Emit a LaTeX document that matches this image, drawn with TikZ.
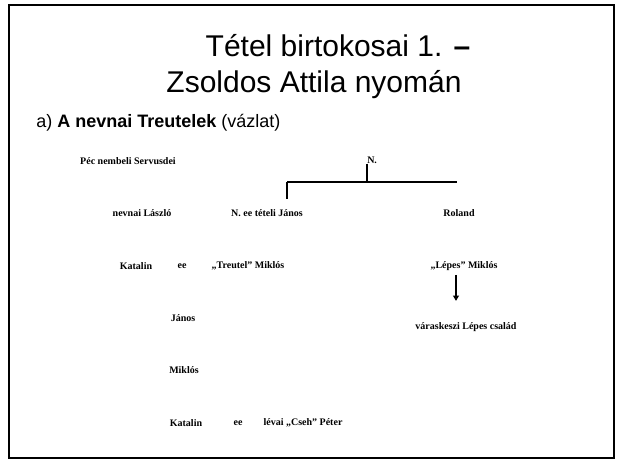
\documentclass[tikz,border=0pt]{standalone}
\usepackage{fontspec}
\setmainfont{Liberation Serif}
\newfontfamily\slidefont{Liberation Sans}
\usetikzlibrary{arrows.meta}

\begin{document}
\begin{tikzpicture}[
    x=.75pt,y=-.75pt,
    nm/.style={font=\bfseries\fontsize{7.5}{9}\selectfont,inner sep=1pt},
    ttl/.style={font=\slidefont\fontsize{22.5}{27}\selectfont,anchor=base,inner sep=0pt},
    ln/.style={line width=1pt,black},
    arr/.style={-{Triangle[length=4pt,width=4.5pt]},line width=.8pt}
  ]
    \useasboundingbox (0,0) rectangle (622,461);
    \draw[line width=1.5pt] (9,5) rectangle (614,458);
    % title
    \node[ttl] (t1) at (338,56) {Tétel birtokosai 1. \textbf{–}};
    \node[ttl] (t2) at (314,92) {Zsoldos Attila nyomán};
    \node[font=\slidefont\fontsize{13.5}{16}\selectfont,anchor=base west,inner sep=0pt] (sub) at (36,127)
      {a) \textbf{A nevnai Treutelek} (vázlat)};
    % family tree
    \node[nm] (serv) at (128,161) {Péc nembeli Servusdei};
    \node[nm,anchor=west,inner sep=0pt] (n) at (367,160) {N.};
    \node[nm] (laszlo) at (142,213) {nevnai László}; \node[nm] (janos1) at (267,213) {N. ee tételi János};
    \node[nm] (roland) at (459,213) {Roland};
    \node[nm] (kat1) at (136,266) {Katalin}; \node[nm] (ee1) at (182,266) {ee};
    \node[nm] (treutel) at (248,266) {„Treutel” Miklós};
    \node[nm] (lepes) at (464,266) {„Lépes” Miklós};
    \node[nm] (vkeszi) at (466,327) {váraskeszi Lépes család};
    \node[nm] (janos2) at (183,318) {János};
    \node[nm] (miklos) at (184,370) {Miklós};
    \node[nm] (kat2) at (186,423) {Katalin}; \node[nm] (ee2) at (238,423) {ee};
    \node[nm] (cseh) at (303,423) {lévai „Cseh” Péter};
    \coordinate (barL) at (287,182); \coordinate (barR) at (457,182); \coordinate (tick) at (367,182);
    \draw[ln] (tick |- n.south) -- (tick);
    \draw[ln] (barL) -- (barR);
    \draw[ln,shorten >=7pt] (barL) -- (barL |- janos1.north);
    \draw[arr,shorten <=2pt,shorten >=15pt] (456,0 |- lepes.south) -- (456,0 |- vkeszi.north);
  \end{tikzpicture}
\end{document}
